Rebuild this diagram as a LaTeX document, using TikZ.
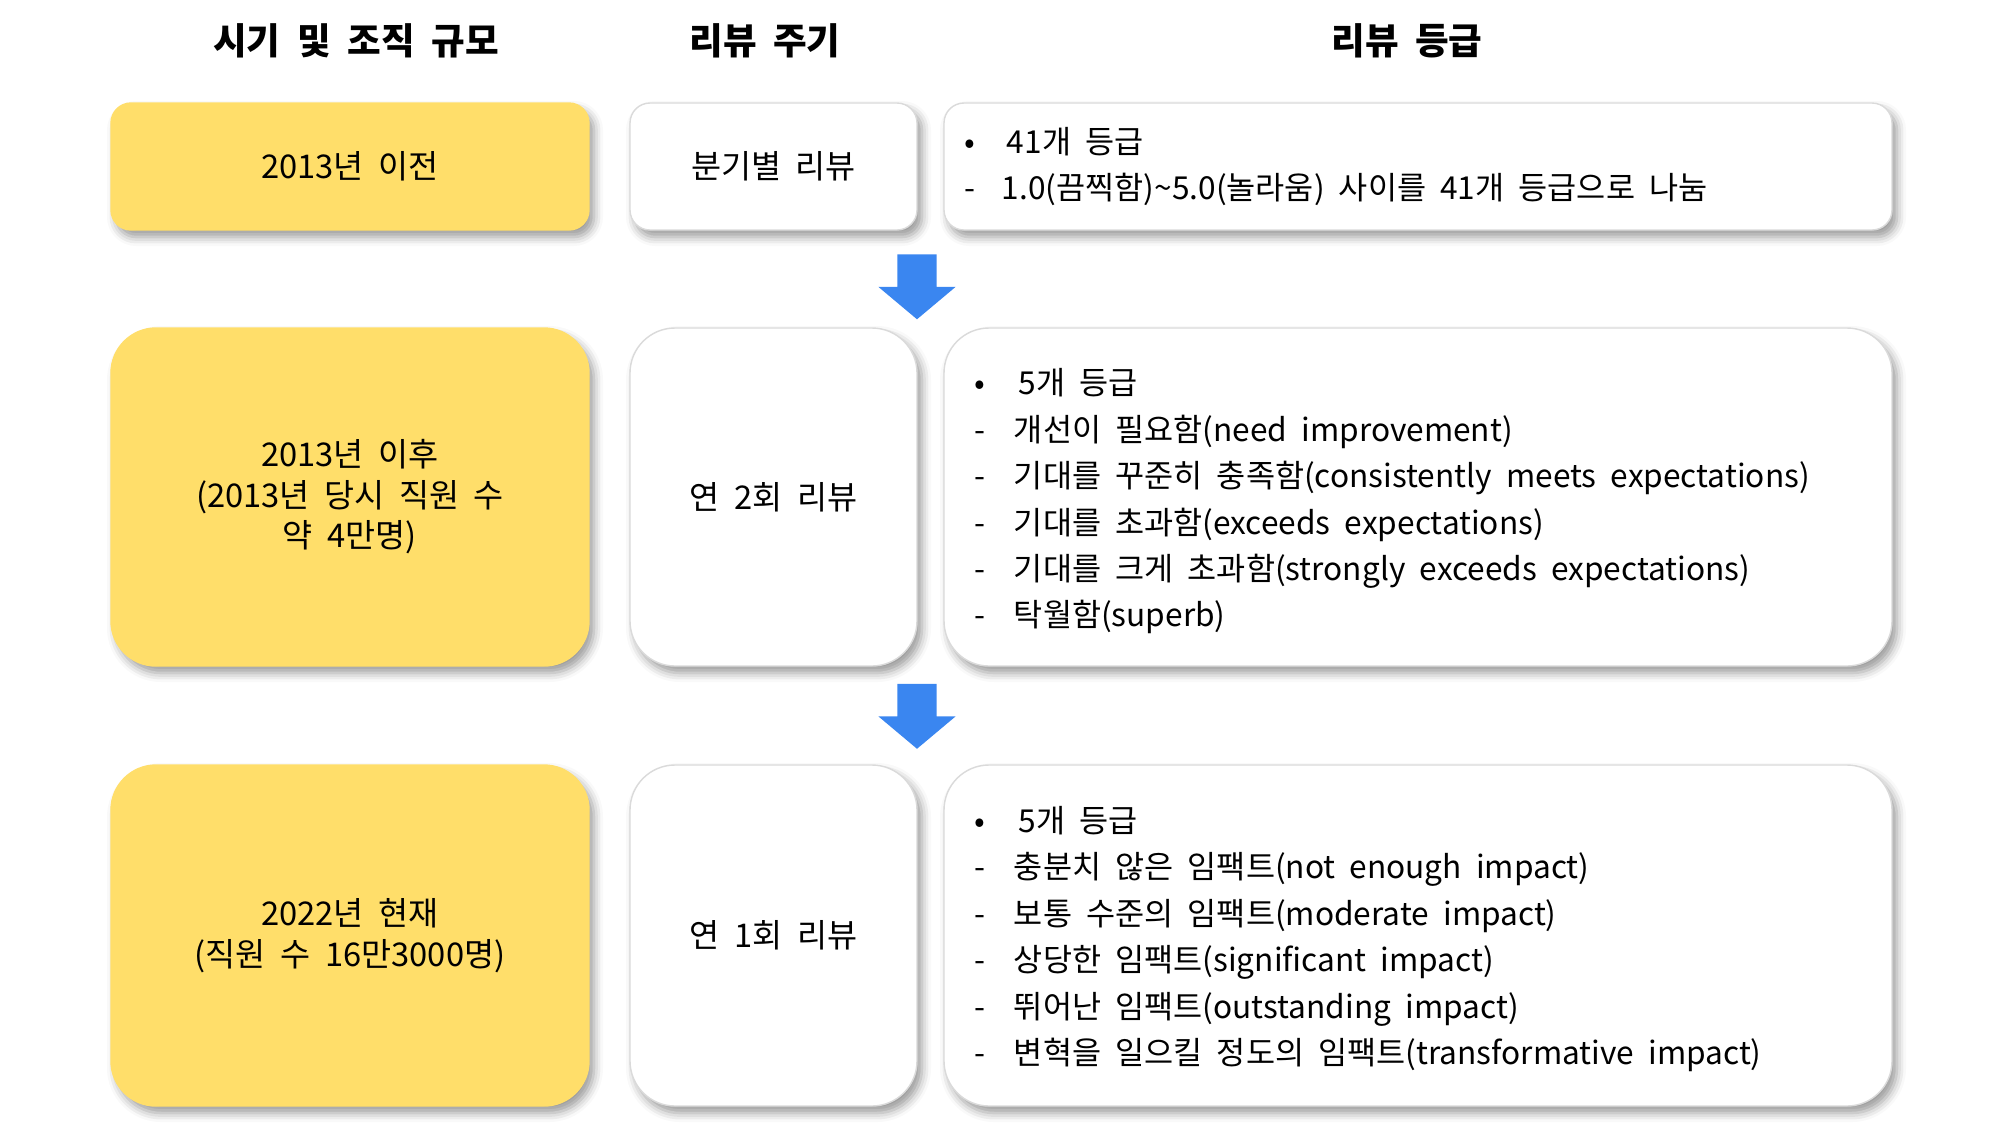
\documentclass[tikz,border=0pt]{standalone}
\usepackage{fontspec}
\setmainfont[WordSpace=2.0]{Noto Sans CJK KR}
\usetikzlibrary{shapes.arrows,shadows.blur,calc}
\definecolor{era}{HTML}{FFDE6A}
\definecolor{cardline}{HTML}{DADADA}
\definecolor{flow}{HTML}{3A86F0}

\begin{document}
\begin{tikzpicture}[
  font={\fontsize{9.3pt}{11.5pt}\selectfont},
  card/.style={draw=cardline, fill=white, line width=0.4pt, align=center, inner sep=0pt,
               blur shadow={shadow xshift=0.5mm, shadow yshift=-0.7mm, shadow blur radius=0.9mm, shadow opacity=40}},
  era/.style={card, draw=era, fill=era},
  short/.style={rounded corners=2mm, minimum height=12.7mm},
  tall/.style={rounded corners=4.5mm},
  head/.style={font={\fontsize{10.4pt}{12pt}\selectfont\bfseries}},
  list/.style={align=left, inner sep=0pt, anchor=west, font={\fontsize{9pt}{13.2pt}\selectfont}},
  down/.style={single arrow, fill=flow, shape border rotate=270, inner sep=1.9mm,
               single arrow head extend=1.9mm, single arrow tip angle=100, minimum height=6.5mm}]
\useasboundingbox (0,0) rectangle (20,-11.25);
% ---------------- column heads
\node[head] (h1) at (3.56,-0.41) {시기 및 조직 규모};
\node[head] (h2) at (7.65,-0.41) {리뷰 주기};
\node[head] (h3) at (14.07,-0.41) {리뷰 등급};
% ---------------- row 1
\node[era, short, minimum width=47.8mm] (era1) at (3.50,-1.665) {2013년 이전};
\node[card, short, minimum width=28.7mm] (cyc1) at (7.735,-1.665) {분기별 리뷰};
\node[card, short, minimum width=94.8mm] (grd1) at (14.18,-1.665) {};
\node[list] (lst1) at ($(grd1.west)+(0.2,0)$)
  {\makebox[4.3mm][l]{•}41개 등급\\
   \makebox[3.8mm][l]{-}1.0(끔찍함)\textasciitilde5.0(놀라움) 사이를 41개 등급으로 나눔};
% ---------------- row 2
\node[era, tall, minimum width=47.8mm, minimum height=33.8mm] (era2) at (3.50,-4.97)
  {2013년 이후\\(2013년 당시 직원 수\\약 4만명)};
\node[card, tall, minimum width=28.7mm, minimum height=33.8mm] (cyc2) at (7.735,-4.97) {연 2회 리뷰};
\node[card, tall, minimum width=94.8mm, minimum height=33.8mm] (grd2) at (14.18,-4.97) {};
\node[list] (lst2) at ($(grd2.west)+(0.3,-0.045)$)
  {\makebox[4.5mm][l]{•}5개 등급\\
   \makebox[4mm][l]{-}개선이 필요함(need improvement)\\
   \makebox[4mm][l]{-}기대를 꾸준히 충족함(consistently meets expectations)\\
   \makebox[4mm][l]{-}기대를 초과함(exceeds expectations)\\
   \makebox[4mm][l]{-}기대를 크게 초과함(strongly exceeds expectations)\\
   \makebox[4mm][l]{-}탁월함(superb)};
% ---------------- row 3
\node[era, tall, minimum width=47.8mm, minimum height=34.1mm] (era3) at (3.50,-9.355)
  {2022년 현재\\(직원 수 16만3000명)};
\node[card, tall, minimum width=28.7mm, minimum height=34.1mm] (cyc3) at (7.735,-9.355) {연 1회 리뷰};
\node[card, tall, minimum width=94.8mm, minimum height=34.1mm] (grd3) at (14.18,-9.355) {};
\node[list] (lst3) at ($(grd3.west)+(0.3,-0.035)$)
  {\makebox[4.5mm][l]{•}5개 등급\\
   \makebox[4mm][l]{-}충분치 않은 임팩트(not enough impact)\\
   \makebox[4mm][l]{-}보통 수준의 임팩트(moderate impact)\\
   \makebox[4mm][l]{-}상당한 임팩트(significant impact)\\
   \makebox[4mm][l]{-}뛰어난 임팩트(outstanding impact)\\
   \makebox[4mm][l]{-}변혁을 일으킬 정도의 임팩트(transformative impact)};
% ---------------- arrows between rows
\node[down] (arr1) at (9.17,-2.785) {};
\node[down] (arr2) at (9.17,-7.08) {};
\end{tikzpicture}
\end{document}
